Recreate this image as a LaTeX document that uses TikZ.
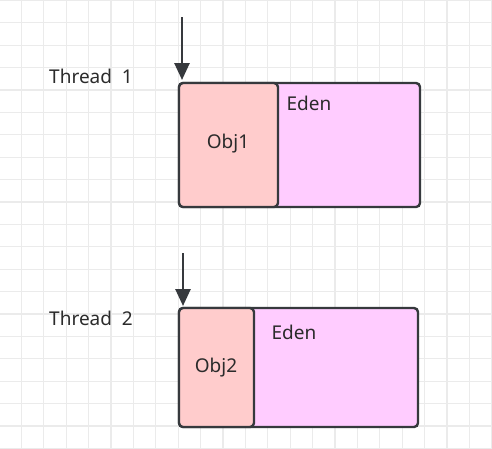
\documentclass[tikz,border=0pt]{standalone}
\usepackage{fontspec}
\setmainfont{Noto Sans}
\usetikzlibrary{arrows.meta}
\definecolor{gridc}{HTML}{EBEBEB}
\definecolor{strokec}{HTML}{36393D}
\definecolor{objc}{HTML}{FFCCCC}
\definecolor{edenc}{HTML}{FFCCFF}
\definecolor{txtc}{HTML}{2B2B2B}
\tikzset{
  edenbox/.style={draw=strokec, fill=edenc, line width=2.4pt, rounded corners=4pt},
  objbox/.style={draw=strokec, fill=objc, line width=2.4pt, rounded corners=4pt},
  lbl/.style={font=\fontsize{19}{22}\selectfont, text=txtc, inner sep=0pt},
  ptr/.style={draw=strokec, line width=2.6pt, -{Triangle[width=15pt,length=17pt]}}
}
\begin{document}
\begin{tikzpicture}[x=1pt,y=-1pt]
\useasboundingbox (0,0) rectangle (492,448);
\fill[white] (0,0) rectangle (492,448);
\foreach \i in {0,...,22} {
  \draw[gridc, line width=1.2pt] ({-1+22.4*\i},0) -- ({-1+22.4*\i},448);
  \draw[gridc, line width=1.2pt] (0,{0.3+22.4*\i}) -- (492,{0.3+22.4*\i});
}
% Thread 1
\node[lbl] (t1) at (91,76) {Thread\ \ 1};
\draw[edenbox] (179,83) rectangle (420,207);
\node[lbl] (e1) at (309,103) {Eden};
\draw[objbox] (179,83) rectangle (278,207);
\node[lbl] (o1) at (228,144) {Obj1};
\coordinate (s1) at (182,17);
\coordinate (h1) at (182,80);
\draw[ptr] (s1) -- (h1);
% Thread 2
\node[lbl] (t2) at (91,318) {Thread\ \ 2};
\draw[edenbox] (179,308) rectangle (418,427);
\node[lbl] (e2) at (294,332) {Eden};
\draw[objbox] (179,308) rectangle (254,427);
\node[lbl] (o2) at (216,368) {Obj2};
\coordinate (s2) at (183,253);
\coordinate (h2) at (183,306);
\draw[ptr] (s2) -- (h2);
\end{tikzpicture}
\end{document}
